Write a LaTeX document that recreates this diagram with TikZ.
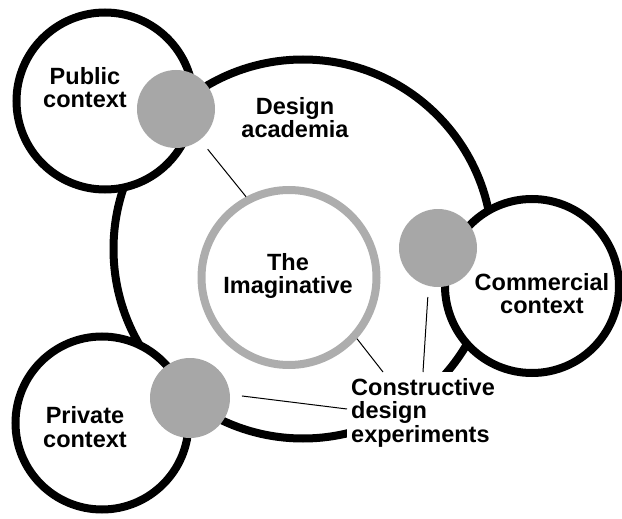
\documentclass[tikz,border=0pt]{standalone}
\usepackage{fontspec}
\setmainfont{Liberation Sans}
\usetikzlibrary{calc}
\definecolor{dotgray}{HTML}{A7A7A7}
\definecolor{ringgray}{HTML}{ADADAD}

\begin{document}
\begin{tikzpicture}[
    x=1pt, y=-1pt,
    ring/.style = {
        draw,
        circle,
        line width=8pt,
        inner sep=0pt
    },
    context/.style = {
        ring,
        fill=white
    },
    joint/.style = {
        circle,
        fill=dotgray,
        inner sep=0pt
    },
    lbl/.style = {
        font=\bfseries\fontsize{23.5}{23.5}\selectfont,
        align=center,
        inner sep=0pt
    },
    link/.style = {
        line width=1pt
    }
]
  \useasboundingbox (0,0) rectangle (622,519);

  \node[ring, minimum size=379pt] (acad) at (303,249) {};
  \node[context, minimum size=177pt] (pub) at (105,101) {};
  \node[context, minimum size=173pt] (priv) at (102,423) {};
  \node[context, minimum size=174pt] (com) at (532,286) {};
  \node[ring, draw=ringgray, minimum size=175pt] (imag) at (289,277.5) {};

  \node[joint, minimum size=78pt] (pubdot) at (176,109) {};
  \node[joint, minimum size=78pt] (comdot) at (438,248) {};
  \node[joint, minimum size=80pt] (privdot) at (190,398) {};

  \node[lbl] (publbl) at (85,87.5) {Public\\context};
  \node[lbl] (acadlbl) at (295,117.5) {Design\\academia};
  \node[lbl] (imaglbl) at (288,275.8) {The\\Imaginative};
  \node[lbl] (comlbl) at (542,293.5) {Commercial\\context};
  \node[lbl] (privlbl) at (85,427) {Private\\context};
  \node[lbl, fill=white, align=left, anchor=north west, inner xsep=4pt, inner ysep=6pt] (cde) at (347,372) {Constructive\\design\\experiments};

  \draw[link, shorten <=12pt] (pubdot.-52) -- (imag.118);
  \draw[link] (imag.-42) -- ($(cde.north west)+(36pt,0pt)$);
  \draw[link, shorten <=11pt] (comdot.-104) -- ($(cde.north west)+(76pt,0pt)$);
  \draw[link, shorten <=12pt] (privdot.5) -- ($(cde.north west)+(0pt,-37pt)$);
\end{tikzpicture}
\end{document}
